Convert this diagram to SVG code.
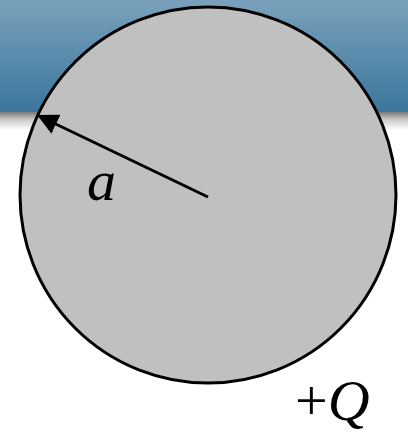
<svg xmlns="http://www.w3.org/2000/svg" width="408" height="432" viewBox="0 0 408 432">
<defs>
<linearGradient id="band" x1="0" y1="0" x2="0" y2="1">
<stop offset="0" stop-color="#7aa1bb"/>
<stop offset="1" stop-color="#3b769c"/>
</linearGradient>
<linearGradient id="shadow" x1="0" y1="0" x2="0" y2="1">
<stop offset="0" stop-color="#7a7a7a"/>
<stop offset="0.4" stop-color="#c8c8c8"/>
<stop offset="1" stop-color="#ffffff"/>
</linearGradient>
<marker id="arrow" viewBox="0 0 10 10" refX="9" refY="5" markerWidth="7" markerHeight="7" markerUnits="strokeWidth" orient="auto">
<path d="M0,0 L10,5 L0,10 z" fill="#000"/>
</marker>
<style>
.lbl{font-family:"Liberation Serif","Times New Roman",serif;font-size:58px;fill:#000}
</style>
</defs>
<rect x="0" y="0" width="408" height="112" fill="url(#band)"/>
<rect x="0" y="112" width="408" height="18" fill="url(#shadow)"/>
<g id="sphere">
<circle cx="208" cy="195" r="188" fill="#c0c0c0" stroke="#000" stroke-width="3"/>
</g>
<g id="connectors">
<line x1="208" y1="197" x2="39" y2="116" stroke="#000" stroke-width="3" marker-end="url(#arrow)"/>
</g>
<g id="labels">
<text class="lbl" x="87" y="200" font-style="italic">a</text>
<text class="lbl" x="295" y="420">+<tspan font-style="italic">Q</tspan></text>
</g>
</svg>
